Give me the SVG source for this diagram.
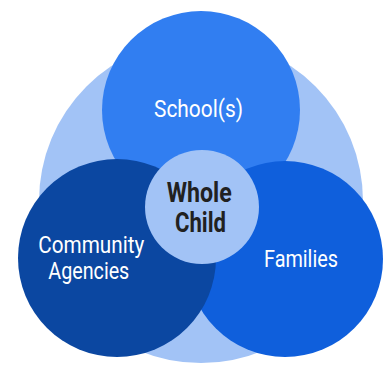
<svg xmlns="http://www.w3.org/2000/svg" width="388" height="365" viewBox="0 0 388 365">
<style>
.lbl{font-family:Roboto,"Liberation Sans",sans-serif;font-size:23px;fill:#ffffff;text-anchor:middle}
.core{font-family:Roboto,"Liberation Sans",sans-serif;font-size:27px;font-weight:bold;fill:#212121;text-anchor:middle}
</style>
<rect width="388" height="365" fill="#ffffff"/>
<g id="background"><circle cx="201" cy="201" r="162" fill="#A2C3F6"/></g>
<g id="connectors"></g>
<g id="school"><circle cx="201" cy="110" r="99" fill="#317EF1"/>
<text class="lbl" x="198.5" y="117.3" textLength="89" lengthAdjust="spacingAndGlyphs">School(s)</text></g>
<g id="families"><circle cx="285" cy="259" r="98" fill="#0F5FDC"/>
<text class="lbl" x="301" y="267.3" textLength="74" lengthAdjust="spacingAndGlyphs">Families</text></g>
<g id="community"><circle cx="117" cy="258" r="99" fill="#0B47A1"/>
<text class="lbl" x="91.3" y="252.7" textLength="106" lengthAdjust="spacingAndGlyphs">Community</text>
<text class="lbl" x="88.8" y="279.3" textLength="81" lengthAdjust="spacingAndGlyphs">Agencies</text></g>
<g id="whole-child"><circle cx="202" cy="207" r="57" fill="#A2C3F6"/>
<text class="core" x="199.2" y="201.7" textLength="65" lengthAdjust="spacingAndGlyphs">Whole</text>
<text class="core" x="200.5" y="231.7" textLength="51" lengthAdjust="spacingAndGlyphs">Child</text></g>
</svg>
